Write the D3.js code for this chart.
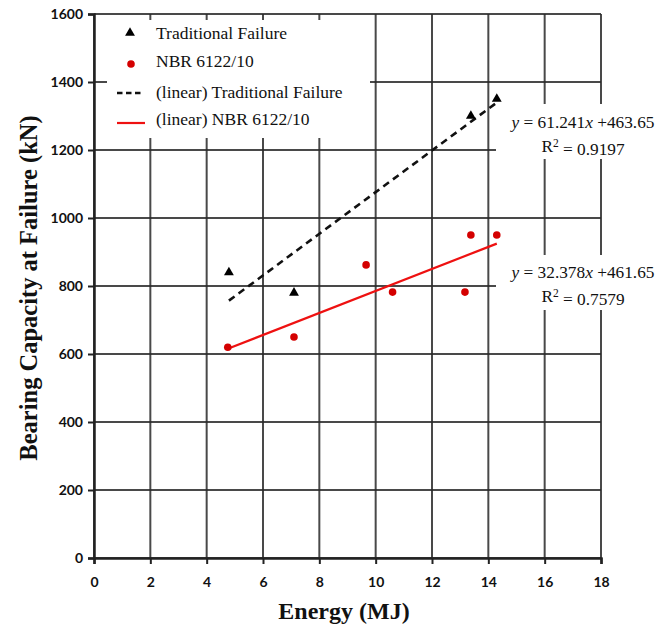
<!DOCTYPE html>
<html>
<head>
<meta charset="utf-8">
<script src="https://cdn.jsdelivr.net/npm/d3@7"></script>
<style>
html,body{margin:0;padding:0;background:#fff;}
svg{display:block;}
</style>
</head>
<body>
<svg id="chart" width="672" height="626"></svg>
<script>
// ---- data ----
const tradEnergy = [4.79, 7.1, 13.38, 14.3];
const tradLoad   = [840, 780, 1300, 1350];
const nbrEnergy  = [4.75, 7.1, 9.66, 10.6, 13.17, 13.38, 14.3];
const nbrLoad    = [620, 650, 862, 782, 782, 950, 950];
const tradFit = {slope: 61.241, intercept: 463.65, r2: "0.9197"};
const nbrFit  = {slope: 32.378, intercept: 461.65, r2: "0.7579"};
const xTicks = [0,2,4,6,8,10,12,14,16,18];
const yTicks = [0,200,400,600,800,1000,1200,1400,1600];
const legendLabels = ["Traditional Failure","NBR 6122/10","(linear) Traditional Failure","(linear) NBR 6122/10"];

const svg = d3.select("#chart");
const x = d3.scaleLinear().domain([0,18]).range([94,601]);
const y = d3.scaleLinear().domain([0,1600]).range([558,14]);

// gridlines
const grid = svg.append("g");
grid.selectAll("line.h").data(yTicks).join("line")
  .attr("x1", x(0)).attr("x2", x(18))
  .attr("y1", d=>y(d)).attr("y2", d=>y(d))
  .attr("stroke", "#2a2a2a").attr("stroke-width", 2).attr("opacity",0.85);
grid.selectAll("line.v").data(xTicks).join("line")
  .attr("y1", y(0)).attr("y2", y(1600))
  .attr("x1", d=>x(d)).attr("x2", d=>x(d))
  .attr("stroke", "#2a2a2a").attr("stroke-width", 2).attr("opacity",0.85);

// axes
const yAxis = svg.append("g").attr("transform", `translate(${x(0)},0)`)
  .call(d3.axisLeft(y).tickValues(yTicks).tickSize(6).tickPadding(5).tickFormat(d3.format("d")));
const xAxis = svg.append("g").attr("transform", `translate(0,${y(0)})`)
  .call(d3.axisBottom(x).tickValues(xTicks).tickSize(6).tickPadding(13).tickFormat(d3.format("d")));
[yAxis, xAxis].forEach(a => {
  a.select(".domain").attr("stroke", "#222").attr("stroke-width", 2.5);
  a.selectAll(".tick line").attr("stroke", "#222").attr("stroke-width", 2);
  a.selectAll(".tick text").attr("fill", "#111")
    .style("font-family", "Lato, 'Open Sans', sans-serif").style("font-weight", "bold").style("font-size", "14px");
});

// trend lines
const tradExt = d3.extent(tradEnergy);
const nbrExt = d3.extent(nbrEnergy);
const line = d3.line().x(d=>x(d[0])).y(d=>y(d[1]));
svg.append("path")
  .datum(tradExt.map(e=>[e, tradFit.slope*e + tradFit.intercept]))
  .attr("d", line).attr("fill","none").attr("stroke","#111")
  .attr("stroke-width", 2.6).attr("stroke-dasharray","7,5");
svg.append("path")
  .datum(nbrExt.map(e=>[e, nbrFit.slope*e + nbrFit.intercept]))
  .attr("d", line).attr("fill","none").attr("stroke","#ee1111")
  .attr("stroke-width", 2.2);

// markers
const tri = d3.symbol().type(d3.symbolTriangle).size(42);
svg.selectAll("path.tri").data(tradEnergy.map((e,i)=>[e, tradLoad[i]])).join("path")
  .attr("class","tri").attr("d", tri)
  .attr("transform", d=>`translate(${x(d[0])},${y(d[1])})`).attr("fill","#000");
svg.selectAll("circle.nbr").data(nbrEnergy.map((e,i)=>[e, nbrLoad[i]])).join("circle")
  .attr("class","nbr").attr("cx", d=>x(d[0])).attr("cy", d=>y(d[1])).attr("r", 3.8)
  .attr("fill","#d40000");

// legend
const lg = svg.append("g");
lg.append("rect").attr("x",107).attr("y",20).attr("width",263).attr("height",118).attr("fill","#fff");
const serif = "'Liberation Serif', 'Times New Roman', serif";
const lgRows = [33, 61, 92, 119];
lg.append("path").attr("d", tri).attr("transform", `translate(130,${lgRows[0]})`).attr("fill","#000");
lg.append("circle").attr("cx",131).attr("cy",lgRows[1]+3).attr("r",3.8).attr("fill","#d40000");
lg.append("line").attr("x1",117).attr("x2",144).attr("y1",lgRows[2]+1).attr("y2",lgRows[2]+1)
  .attr("stroke","#111").attr("stroke-width",2.6).attr("stroke-dasharray","5.5,3.5");
lg.append("line").attr("x1",117).attr("x2",145).attr("y1",lgRows[3]+4).attr("y2",lgRows[3]+4)
  .attr("stroke","#ee1111").attr("stroke-width",2.2);
lg.selectAll("text").data(legendLabels).join("text")
  .attr("x",156).attr("y",(d,i)=>lgRows[i]).attr("dy","0.35em")
  .style("font-family", serif).style("font-size","17.5px").attr("fill","#111").text(d=>d);

// equation labels
function eqLabel(fit, boxY, cy1){
  const g = svg.append("g");
  g.append("rect").attr("x",496).attr("y",boxY).attr("width",176).attr("height",55).attr("fill","#fff");
  const t1 = g.append("text").attr("x",583).attr("y",cy1).attr("dy","0.35em").attr("text-anchor","middle")
    .style("font-family", serif).style("font-size","17.3px").attr("fill","#111");
  t1.append("tspan").style("font-style","italic").text("y");
  t1.append("tspan").text(" = " + fit.slope.toFixed(3));
  t1.append("tspan").style("font-style","italic").text("x");
  t1.append("tspan").text(" +" + fit.intercept.toFixed(2));
  const t2 = g.append("text").attr("x",583).attr("y",cy1+24).attr("dy","0.35em").attr("text-anchor","middle")
    .style("font-family", serif).style("font-size","17.3px").attr("fill","#111");
  t2.append("tspan").text("R");
  t2.append("tspan").attr("dy","-0.45em").style("font-size","11.5px").text("2");
  t2.append("tspan").attr("dy","0.45em").text(" = " + fit.r2);
}
eqLabel(tradFit, 104, 122);
eqLabel(nbrFit, 255, 272);

// axis titles
svg.append("text").attr("x", 344).attr("y", 619).attr("text-anchor","middle")
  .style("font-family", serif).style("font-weight","bold").style("font-size","24px").attr("fill","#111")
  .text("Energy (MJ)");
svg.append("text").attr("transform","translate(37,288) rotate(-90)").attr("text-anchor","middle")
  .style("font-family", serif).style("font-weight","bold").style("font-size","24.5px").attr("fill","#111")
  .text("Bearing Capacity at Failure (kN)");
</script>
</body>
</html>
